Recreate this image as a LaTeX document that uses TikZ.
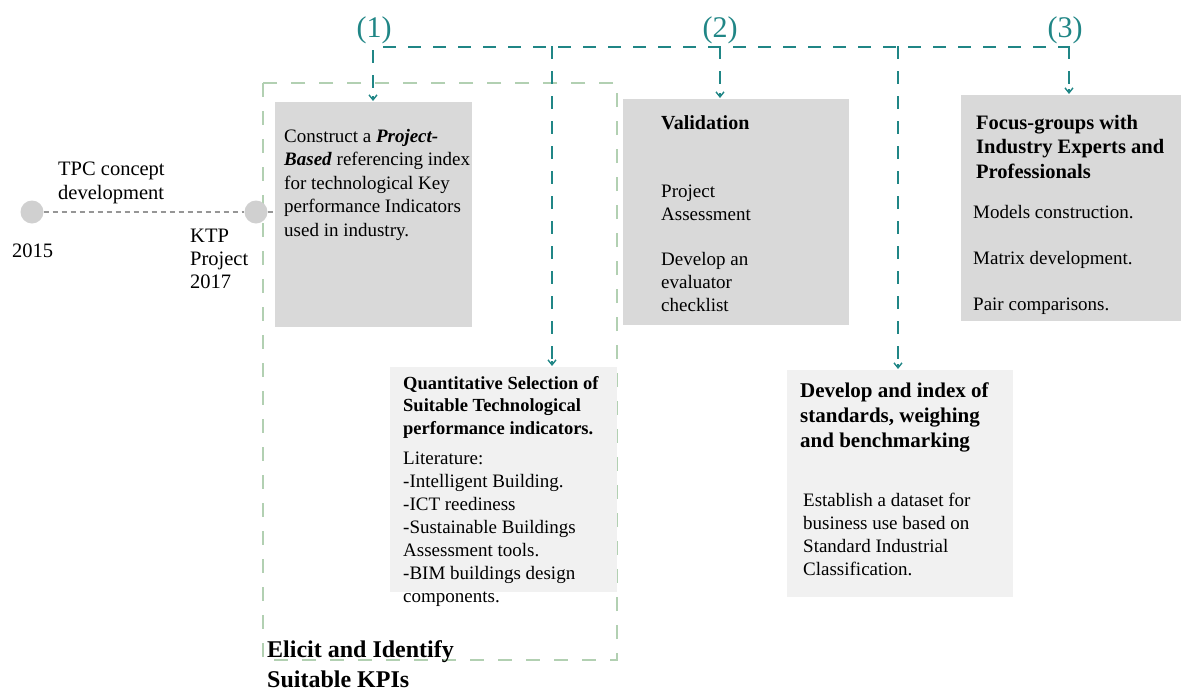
\documentclass[tikz,border=0pt]{standalone}
\usepackage{fontspec}
\setmainfont{Liberation Serif}
\usetikzlibrary{arrows.meta}
\definecolor{tealc}{RGB}{32,134,134}
\definecolor{greenc}{RGB}{178,208,178}
\definecolor{boxdark}{RGB}{217,217,217}
\definecolor{boxlight}{RGB}{241,241,241}
\definecolor{dotc}{RGB}{208,208,208}
\definecolor{tlc}{RGB}{150,150,150}
\tikzset{
  txt/.style={inner sep=0pt, anchor=base west, align=left},
  reg/.style={font=\fontsize{19}{23.5}\selectfont},
  boxd/.style={fill=boxdark, draw=none},
  boxl/.style={fill=boxlight, draw=none},
  tealline/.style={draw=tealc, line width=1.6pt, dash pattern=on 13pt off 12pt},
  tealtip/.style={draw=tealc, line width=1.4pt, -{Straight Barb[length=5pt,width=8pt]}},
  greenframe/.style={draw=greenc, line width=1.3pt, dash pattern=on 14pt off 14pt},
  tldot/.style={circle, fill=dotc, minimum size=23pt, inner sep=0pt},
  tlline/.style={draw=tlc, line width=1.2pt, dash pattern=on 5pt off 4pt},
  numlabel/.style={inner sep=0pt, anchor=base, text=tealc, font=\fontsize{30}{34}\selectfont},
}
\begin{document}
\begin{tikzpicture}[x=1pt,y=-1pt]
\useasboundingbox[fill=white] (0,0) rectangle (1184,691);

% green dashed frame
\draw[greenframe] (263,83) rectangle (617,660);

% boxes
\node[boxd, inner sep=0pt, minimum width=197pt, minimum height=225pt, anchor=north west] (box1) at (275,102) {};
\node[boxd, inner sep=0pt, minimum width=226pt, minimum height=226pt, anchor=north west] (box2) at (623,99) {};
\node[boxd, inner sep=0pt, minimum width=220pt, minimum height=226pt, anchor=north west] (box3) at (961,95) {};
\node[boxl, inner sep=0pt, minimum width=227pt, minimum height=225pt, anchor=north west] (box4) at (390,367) {};
\node[boxl, inner sep=0pt, minimum width=226pt, minimum height=227pt, anchor=north west] (box5) at (787,370) {};

% timeline
\node[tldot] (d1) at (32,212) {};
\node[tldot] (d2) at (256,212) {};
\draw[tlline] (d1.east) -- (d2.west);
\draw[tlline] (d2.east) -- (box1.west |- d2.east);
\node[txt, font=\fontsize{20.5}{24}\selectfont] (tpc) at (58,199) {TPC concept\\development};
\node[txt, font=\fontsize{20.5}{24}\selectfont] (y15) at (12,257) {2015};
\node[txt, font=\fontsize{20.5}{23}\selectfont] (ktp) at (190,288) {KTP\\Project\\2017};

% number labels
\node[numlabel] (n1) at (374,37) {(1)};
\node[numlabel] (n2) at (720,37) {(2)};
\node[numlabel] (n3) at (1065,37) {(3)};

% teal connectors
\coordinate (h1) at (373,47);
\coordinate (h2) at (552,47);
\coordinate (h3) at (720,47);
\coordinate (h4) at (898,47);
\coordinate (h5) at (1069,47);
\draw[tealline] ([xshift=10pt]h1) -- ([xshift=0.8pt]h5);
\draw[tealline] ([yshift=-3pt]h1) -- ([yshift=4pt]h1 |- box1.north);
\draw[tealline] ([yshift=0.8pt]h2) -- ([yshift=4pt]h2 |- box4.north);
\draw[tealline] ([yshift=0.8pt]h3) -- ([yshift=4pt]h3 |- box2.north);
\draw[tealline] ([yshift=0.8pt]h4) -- ([yshift=4pt]h4 |- box5.north);
\draw[tealline] ([yshift=0.8pt]h5) -- ([yshift=4pt]h5 |- box3.north);
\draw[tealtip] ([yshift=6pt]h1 |- box1.north) -- ([yshift=1pt]h1 |- box1.north);
\draw[tealtip] ([yshift=6pt]h2 |- box4.north) -- ([yshift=1pt]h2 |- box4.north);
\draw[tealtip] ([yshift=6pt]h3 |- box2.north) -- ([yshift=1pt]h3 |- box2.north);
\draw[tealtip] ([yshift=6pt]h4 |- box5.north) -- ([yshift=1pt]h4 |- box5.north);
\draw[tealtip] ([yshift=6pt]h5 |- box3.north) -- ([yshift=1pt]h5 |- box3.north);

% box 1 text
\node[txt, reg] (t1) at (284,236) {Construct a \textbf{\textit{Project-}}\\\textbf{\textit{Based}} referencing index\\for technological Key\\performance Indicators\\used in industry.};

% box 2 text
\node[txt, font=\bfseries\fontsize{20}{24}\selectfont] (t2a) at (661,129) {Validation};
\node[txt, font=\fontsize{19}{23}\selectfont] (t2b) at (661,311) {Project\\Assessment\\[22pt]Develop an\\evaluator\\checklist};

% box 3 text
\node[txt, font=\bfseries\fontsize{20.5}{24.5}\selectfont] (t3a) at (976,178) {Focus-groups with\\Industry Experts and\\Professionals};
\node[txt, font=\fontsize{19}{23}\selectfont] (t3b) at (973,310) {Models construction.\\[23pt]Matrix development.\\[23pt]Pair comparisons.};

% box 4 text
\node[txt, font=\bfseries\fontsize{18.5}{22.5}\selectfont] (t4a) at (403,434) {Quantitative Selection of\\Suitable Technological\\performance indicators.};
\node[txt, font=\fontsize{19}{23}\selectfont] (t4b) at (403,602) {Literature:\\-Intelligent Building.\\-ICT reediness\\-Sustainable Buildings\\Assessment tools.\\-BIM buildings design\\components.};

% box 5 text
\node[txt, font=\bfseries\fontsize{21}{25}\selectfont] (t5a) at (800,447) {Develop and index of\\standards, weighing\\and benchmarking};
\node[txt, font=\fontsize{19}{23}\selectfont] (t5b) at (803,575) {Establish a dataset for\\business use based on\\Standard Industrial\\Classification.};

% frame label
\node[txt, font=\bfseries\fontsize{24}{30}\selectfont] (elicit) at (267,687) {Elicit and Identify\\Suitable KPIs};
\end{tikzpicture}
\end{document}
